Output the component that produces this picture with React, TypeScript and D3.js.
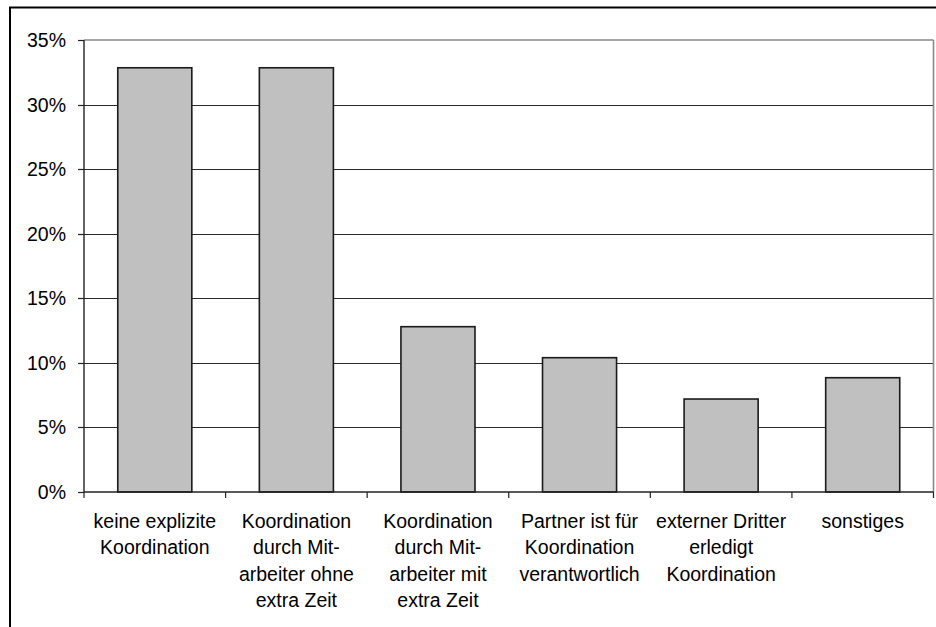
import React from "react";
import * as d3 from "d3";

const categories: string[][] = [
  ["keine explizite", "Koordination"],
  ["Koordination", "durch Mit-", "arbeiter ohne", "extra Zeit"],
  ["Koordination", "durch Mit-", "arbeiter mit", "extra Zeit"],
  ["Partner ist für", "Koordination", "verantwortlich"],
  ["externer Dritter", "erledigt", "Koordination"],
  ["sonstiges"],
];
const values: number[] = [32.85, 32.85, 12.8, 10.4, 7.2, 8.85];
const yTicks: number[] = [0, 5, 10, 15, 20, 25, 30, 35];

export default function App() {
  const W = 936, H = 627;
  const left = 84, right = 933.5, top = 40, bottom = 492;
  const x = d3.scaleBand<number>().domain(d3.range(categories.length)).range([left, right]).paddingInner(0).paddingOuter(0);
  const y = d3.scaleLinear().domain([0, 35]).range([bottom, top]);
  const bw = x.bandwidth() * 0.523;
  const font = "'Liberation Sans', Arial, sans-serif";
  return (
    <svg width={W} height={H} style={{ position: "absolute", left: 0, top: 0, background: "#fff" }} fontFamily={font}>
      <rect x={10} y={7.5} width={1000} height={1000} fill="none" stroke="#000" strokeWidth={2} />
      {yTicks.map((t) => (
        <g key={t}>
          {t > 0 && t < 35 && <line x1={left} x2={right} y1={Math.round(y(t)) + 0.5} y2={Math.round(y(t)) + 0.5} stroke="#2a2a2a" strokeWidth={1.2} />}
          <line x1={78} x2={left} y1={Math.round(y(t)) + 0.5} y2={Math.round(y(t)) + 0.5} stroke="#222" strokeWidth={1.2} />
          <text x={66} y={y(t)} dy="0.36em" textAnchor="end" fontSize={19.5} fill="#000">{`${t}%`}</text>
        </g>
      ))}
      <line x1={left} x2={right} y1={top} y2={top} stroke="#8a8a8a" strokeWidth={1.6} />
      <line x1={right} x2={right} y1={top} y2={bottom} stroke="#8a8a8a" strokeWidth={1.6} />
      {values.map((v, i) => {
        const cx = (x(i) as number) + x.bandwidth() / 2;
        return (
          <rect key={i} x={cx - bw / 2} y={y(v)} width={bw} height={bottom - y(v)} fill="#c0c0c0" stroke="#1a1a1a" strokeWidth={1.6} />
        );
      })}
      <line x1={left} x2={left} y1={top} y2={bottom} stroke="#222" strokeWidth={1.4} />
      <line x1={left} x2={right} y1={bottom} y2={bottom} stroke="#222" strokeWidth={1.4} />
      {d3.range(categories.length + 1).map((i) => {
        const xx = i < categories.length ? (x(i) as number) : right;
        return <line key={i} x1={xx} x2={xx} y1={bottom} y2={bottom + 6} stroke="#222" strokeWidth={1.2} />;
      })}
      {categories.map((lines, i) => {
        const cx = (x(i) as number) + x.bandwidth() / 2;
        return (
          <text key={i} x={cx} y={528} textAnchor="middle" fontSize={19.5} fill="#000">
            {lines.map((l, j) => (
              <tspan key={j} x={cx} y={528 + j * 26.3}>{l}</tspan>
            ))}
          </text>
        );
      })}
    </svg>
  );
}
